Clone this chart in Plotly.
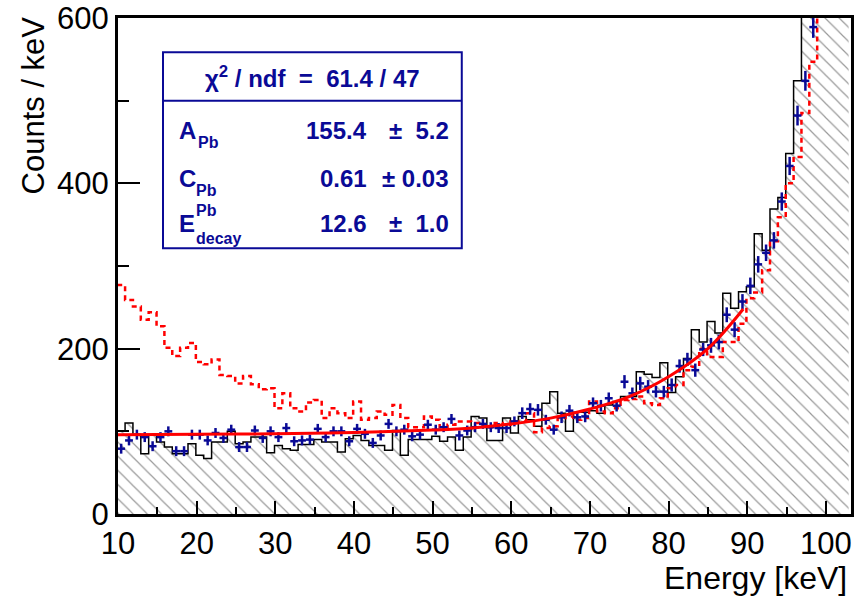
import plotly.graph_objects as go

# bins of 1 keV, lower edges 10 ... 102
bin_lo = list(range(10, 103))

# measured spectrum (hatched histogram)
counts_hist = [100, 110, 96, 73, 96, 87, 81, 73, 73, 85,
               71, 67, 87, 87, 100, 85, 87, 93, 93, 74,
               83, 79, 77, 84, 84, 90, 87, 87, 75, 91,
               95, 89, 83, 83, 77, 101, 71, 90, 90, 90,
               94, 88, 93, 77, 93, 118, 116, 89, 89, 116,
               98, 118, 114, 106, 134, 148, 122, 100, 123, 123,
               125, 122, 132, 136, 142, 142, 172, 169, 165, 183,
               147, 166, 188, 223, 208, 233, 219, 267, 249, 269,
               275, 339, 319, 369, 383, 436, 524, 650, 720, 790,
               860, 930, 1000]

# second spectrum (red dashed)
counts_red = [277, 259, 251, 235, 244, 227, 201, 191, 201, 207,
              184, 181, 187, 168, 167, 158, 167, 157, 151, 152,
              128, 146, 128, 124, 135, 138, 116, 128, 122, 116,
              136, 114, 116, 124, 120, 132, 116, 105, 105, 118,
              114, 105, 108, 112, 112, 110, 108, 105, 110, 108,
              112, 112, 122, 99, 104, 106, 116, 118, 114, 116,
              136, 124, 122, 128, 138, 139, 142, 134, 132, 140,
              152, 156, 174, 178, 200, 190, 190, 208, 208, 230,
              261, 268, 295, 330, 359, 400, 432, 485, 547, 640,
              700, 760, 830]

# data points with errors (blue)
counts_data = [79, 89, 96, 93, 82, 93, 100, 76, 76, 96,
               96, 89, 98, 92, 102, 81, 81, 101, 92, 100,
               93, 104, 88, 89, 90, 103, 93, 100, 100, 88,
               103, 97, 86, 95, 109, 100, 102, 94, 96, 108,
               102, 105, 115, 95, 101, 105, 109, 105, 104, 104,
               112, 122, 127, 126, 114, 102, 117, 125, 117, 118,
               134, 131, 140, 131, 160, 146, 158, 154, 148, 148,
               156, 179, 187, 174, 199, 204, 208, 241, 223, 257,
               276, 302, 316, 331, 378, 421, 482, 524, 589, 660,
               720, 790, 850]
errors_data = [6, 6, 6, 6, 6, 6, 6, 6, 6, 6,
               6, 6, 6, 6, 6, 6, 6, 6, 6, 6,
               6, 6, 6, 6, 6, 6, 6, 6, 6, 6,
               6, 6, 6, 6, 6, 6, 6, 6, 6, 6,
               6, 6, 6, 6, 6, 6, 6, 6, 6, 6,
               6, 7, 7, 7, 6, 6, 7, 7, 7, 7,
               7, 7, 7, 7, 8, 7, 8, 8, 7, 7,
               8, 8, 8, 8, 8, 9, 9, 9, 9, 9,
               10, 10, 10, 10, 11, 11, 12, 12, 13, 13,
               13, 14, 14]

# fit curve
fit_e = [10, 20, 30, 40, 50, 55, 60, 65, 70, 75, 80, 85, 89.5]
fit_y = [96, 96.5, 97, 98.5, 101.5, 104, 109, 116, 127, 142, 166, 200, 248]

stat_labels = ["A", "C", "E"]
stat_values = ["155.4", "0.61", "12.6"]
stat_errors = ["\u00b1  5.2", "\u00b1 0.03", "\u00b1  1.0"]

offset = -0.1
edges = [b + offset for b in bin_lo] + [bin_lo[-1] + 1 + offset]
centers = [b + 0.5 + offset for b in bin_lo]

BLUE = "#0a0a96"
FONT = "Liberation Sans, Arial, sans-serif"

fig = go.Figure()
fig.add_trace(go.Scatter(
    x=edges, y=counts_hist + [counts_hist[-1]],
    mode="lines", line=dict(color="black", width=1.5, shape="hv"),
    fill="tozeroy", fillcolor="rgba(0,0,0,0)",
    fillpattern=dict(shape="\\", fgcolor="#333333", bgcolor="white",
                     size=10, solidity=0.12),
))
fig.add_trace(go.Scatter(
    x=edges, y=counts_red + [counts_red[-1]],
    mode="lines", line=dict(color="#ff0000", width=2.5, shape="hv", dash="5px,4px"),
))
fig.add_trace(go.Scatter(
    x=centers, y=counts_data, mode="markers",
    marker=dict(size=1, color=BLUE),
    error_x=dict(type="constant", value=0.5, color=BLUE, thickness=2.5, width=0),
    error_y=dict(type="data", array=errors_data, color=BLUE, thickness=2.5, width=0),
))
fig.add_trace(go.Scatter(
    x=fit_e, y=fit_y, mode="lines",
    line=dict(color="#ff0000", width=3, shape="spline"),
))

# stats box
bx0, bx1, by0, by1, bsep = 0.0614, 0.469, 0.536, 0.931, 0.833
shapes = [
    dict(type="rect", xref="paper", yref="paper", x0=bx0, x1=bx1, y0=by0, y1=by1,
         line=dict(color=BLUE, width=2), fillcolor="white", layer="above"),
    dict(type="line", xref="paper", yref="paper", x0=bx0, x1=bx1, y0=bsep, y1=bsep,
         line=dict(color=BLUE, width=2), layer="above"),
]
bold = dict(family=FONT, size=24, color=BLUE, weight="bold")
small = dict(family=FONT, size=16, color=BLUE, weight="bold")
ann = [
    dict(text="\u03c7<sup>2</sup> / ndf  =  61.4 / 47", x=(bx0 + bx1) / 2, y=0.882,
         xanchor="center", yanchor="middle", font=bold),
]
rows_y = [0.774, 0.677, 0.585]
for lab, val, err, yy in zip(stat_labels, stat_values, stat_errors, rows_y):
    ann.append(dict(text=lab, x=0.081, y=yy, xanchor="left", yanchor="middle", font=bold))
    ann.append(dict(text=val, x=0.343, y=yy, xanchor="right", yanchor="middle", font=bold))
    ann.append(dict(text=err, x=0.4545, y=yy, xanchor="right", yanchor="middle", font=bold))
ann.append(dict(text="Pb", x=0.106, y=rows_y[0] - 0.024, xanchor="left", yanchor="middle", font=small))
ann.append(dict(text="Pb", x=0.104, y=rows_y[1] - 0.024, xanchor="left", yanchor="middle", font=small))
ann.append(dict(text="Pb", x=0.104, y=rows_y[2] + 0.027, xanchor="left", yanchor="middle", font=small))
ann.append(dict(text="decay", x=0.104, y=rows_y[2] - 0.03, xanchor="left", yanchor="middle", font=small))
for a in ann:
    a.update(xref="paper", yref="paper", showarrow=False)

ann.append(dict(text="Counts / keV", xref="paper", yref="paper", x=-0.142, y=1.008,
                xanchor="left", yanchor="top", textangle=-90, showarrow=False,
                font=dict(family=FONT, size=31, color="black")))
ann.append(dict(text="Energy [keV]", xref="paper", yref="paper", x=0.997, y=-0.088,
                xanchor="right", yanchor="top", showarrow=False,
                font=dict(family=FONT, size=32, color="black")))

fig.update_layout(
    width=856, height=599,
    margin=dict(l=118, r=5, t=18, b=85),
    paper_bgcolor="white", plot_bgcolor="white",
    showlegend=False,
    shapes=shapes, annotations=ann,
    font=dict(family=FONT, size=31, color="black"),
    xaxis=dict(range=[10, 103.2], tick0=10, dtick=10, ticks="inside", ticklen=13,
               tickwidth=1.5, tickcolor="black", automargin=False,
               minor=dict(dtick=5, ticks="inside", ticklen=7, tickwidth=1.5, tickcolor="black"),
               showgrid=False, zeroline=False, showline=True, linecolor="black",
               linewidth=3, mirror=True),
    yaxis=dict(range=[0, 600], tick0=0, dtick=200, ticks="inside", ticklen=22,
               tickwidth=1.5, tickcolor="black", automargin=False,
               minor=dict(dtick=100, ticks="inside", ticklen=11, tickwidth=1.5, tickcolor="black"),
               showgrid=False, zeroline=False, showline=True, linecolor="black",
               linewidth=3, mirror=True),
)
# drop the default page margin so the figure sits at the window corner
fig.write_html("out.html", config={"displayModeBar": False},
               post_script="document.body.style.margin='0px';")
